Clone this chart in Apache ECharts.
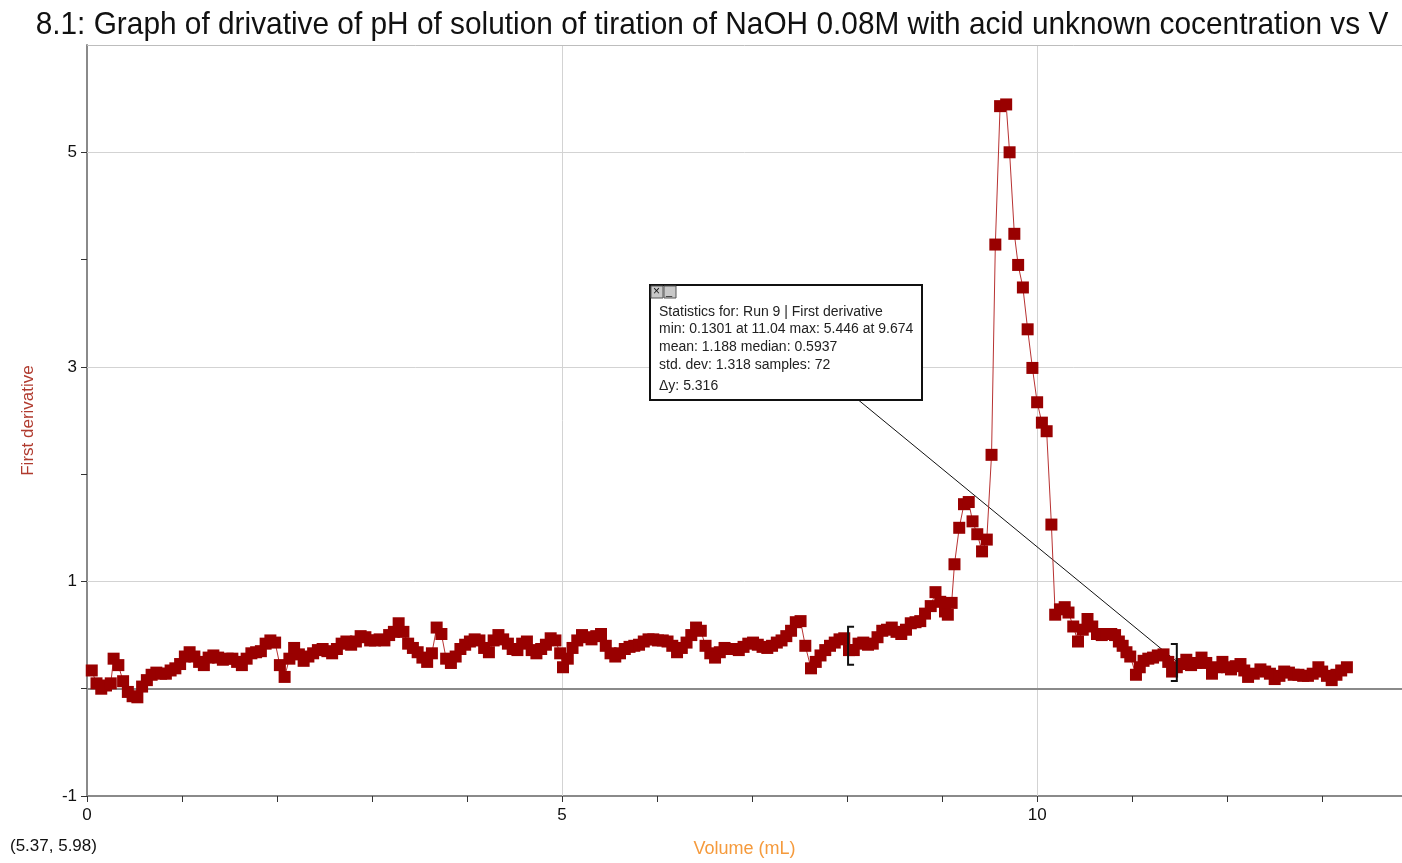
<!DOCTYPE html>
<html>
<head>
<meta charset="utf-8">
<script src="https://cdn.jsdelivr.net/npm/echarts@6/dist/echarts.min.js"></script>
<style>
html,body{margin:0;padding:0;background:#fff;}
#chart{width:1402px;height:863px;}
</style>
</head>
<body>
<div id="chart"></div>
<script>
const titleText = "8.1: Graph of drivative of pH of solution of tiration of NaOH 0.08M with acid unknown cocentration vs V";
const volume = [0.05,0.10,0.15,0.20,0.25,0.28,0.33,0.38,0.43,0.48,0.53,0.58,0.63,0.68,0.73,0.78,0.83,0.88,0.93,0.98,
1.03,1.08,1.13,1.18,1.23,1.28,1.33,1.38,1.43,1.48,1.53,1.58,1.63,1.68,1.73,1.78,1.83,1.88,1.93,1.98,
2.03,2.08,2.13,2.18,2.23,2.28,2.33,2.38,2.43,2.48,2.53,2.58,2.63,2.68,2.73,2.78,2.83,2.88,2.93,2.98,
3.03,3.08,3.13,3.18,3.23,3.28,3.33,3.38,3.43,3.48,3.53,3.58,3.63,3.68,3.73,3.78,3.83,3.88,3.93,3.98,
4.03,4.08,4.13,4.18,4.23,4.28,4.33,4.38,4.43,4.48,4.53,4.58,4.63,4.68,4.73,4.78,4.83,4.88,4.93,4.98,
5.01,5.06,5.11,5.16,5.21,5.26,5.31,5.36,5.41,5.46,5.51,5.56,5.61,5.66,5.71,5.76,5.81,5.86,5.91,5.96,
6.01,6.06,6.11,6.16,6.21,6.26,6.31,6.36,6.41,6.46,6.51,6.56,6.61,6.66,6.71,6.76,6.81,6.86,6.91,6.96,
7.01,7.06,7.11,7.16,7.21,7.26,7.31,7.36,7.41,7.46,7.51,7.56,7.62,7.67,7.72,7.77,7.82,7.87,7.92,7.97,
8.02,8.07,8.12,8.17,8.22,8.27,8.32,8.37,8.42,8.47,8.52,8.57,8.62,8.67,8.72,8.77,8.82,8.88,8.93,8.98,
9.03,9.06,9.10,9.13,9.18,9.23,9.28,9.32,9.37,9.42,9.47,9.52,9.56,9.61,9.674,9.71,9.76,9.80,9.85,9.90,
9.95,10.00,10.05,10.10,10.15,10.19,10.24,10.29,10.33,10.38,10.43,10.48,10.53,10.58,10.63,10.68,10.73,10.78,10.82,10.86,
10.90,10.94,10.98,11.04,11.08,11.12,11.17,11.22,11.27,11.33,11.38,11.42,11.47,11.52,11.57,11.62,11.67,11.73,11.78,11.84,
11.89,11.95,12.00,12.04,12.09,12.14,12.18,12.22,12.28,12.35,12.40,12.45,12.50,12.55,12.60,12.65,12.70,12.75,12.80,12.85,
12.90,12.96,13.00,13.05,13.10,13.15,13.20,13.26];
const derivative = [0.17,0.05,0.00,0.03,0.05,0.28,0.22,0.07,-0.03,-0.07,-0.08,0.02,0.08,0.13,0.15,0.14,0.14,0.17,0.19,0.23,
0.30,0.34,0.30,0.25,0.22,0.29,0.31,0.29,0.27,0.28,0.28,0.25,0.22,0.28,0.33,0.34,0.35,0.42,0.45,0.43,
0.22,0.11,0.28,0.38,0.32,0.26,0.30,0.33,0.36,0.37,0.35,0.33,0.37,0.42,0.44,0.41,0.44,0.49,0.48,0.45,
0.45,0.46,0.45,0.50,0.53,0.61,0.53,0.42,0.38,0.34,0.29,0.25,0.33,0.57,0.51,0.28,0.24,0.30,0.37,0.41,
0.44,0.46,0.45,0.38,0.34,0.45,0.50,0.46,0.42,0.37,0.36,0.42,0.44,0.36,0.33,0.37,0.41,0.47,0.45,0.33,
0.20,0.28,0.38,0.45,0.50,0.48,0.46,0.49,0.51,0.40,0.33,0.30,0.33,0.37,0.39,0.40,0.41,0.44,0.46,0.46,
0.45,0.45,0.44,0.40,0.34,0.38,0.43,0.50,0.57,0.54,0.40,0.33,0.29,0.34,0.38,0.37,0.37,0.36,0.39,0.42,
0.43,0.41,0.39,0.38,0.40,0.43,0.45,0.49,0.54,0.62,0.63,0.40,0.19,0.25,0.31,0.36,0.40,0.43,0.46,0.47,
0.36,0.36,0.42,0.43,0.41,0.42,0.48,0.54,0.55,0.57,0.53,0.51,0.55,0.61,0.62,0.63,0.70,0.77,0.90,0.81,
0.72,0.69,0.80,1.16,1.50,1.72,1.74,1.56,1.44,1.28,1.39,2.18,4.14,5.43,5.446,5.00,4.24,3.95,3.74,3.35,
2.99,2.67,2.48,2.40,1.53,0.69,0.74,0.76,0.71,0.58,0.44,0.55,0.65,0.58,0.51,0.50,0.51,0.51,0.50,0.44,
0.40,0.34,0.30,0.1301,0.20,0.26,0.28,0.29,0.31,0.32,0.25,0.16,0.20,0.23,0.27,0.22,0.24,0.29,0.24,0.14,
0.20,0.25,0.20,0.18,0.21,0.23,0.17,0.11,0.14,0.18,0.16,0.14,0.09,0.12,0.16,0.15,0.13,0.13,0.12,0.12,
0.14,0.20,0.16,0.12,0.08,0.13,0.17,0.20];
const xLabelValues = [0, 5, 10];
const yLabelValues = [-1, 1, 3, 5];
const statsLines = [
  "Statistics for: Run 9 | First derivative",
  "min: 0.1301 at 11.04 max: 5.446 at 9.674",
  "mean: 1.188 median: 0.5937",
  "std. dev: 1.318 samples: 72",
  "\u0394y: 5.316"
];
const cursorText = "(5.37, 5.98)";
const rangeStart = 8.01, rangeEnd = 11.47;

const chart = echarts.init(document.getElementById('chart'), null, {renderer: 'canvas'});
const seriesData = volume.map((v, i) => [v, derivative[i]]);
const gridLineColor = '#d3d3d3';

chart.setOption({
  animation: false,
  backgroundColor: '#ffffff',
  grid: {left: 87, right: 0, top: 45, bottom: 66, containLabel: false},
  xAxis: {
    type: 'value', min: 0, max: 13.84, interval: 1,
    name: 'Volume (mL)', nameLocation: 'middle', nameGap: 44,
    nameTextStyle: {color: '#f59a3c', fontSize: 18, fontFamily: '"Liberation Sans", Arial, sans-serif'},
    axisLine: {show: true, onZero: false, lineStyle: {color: '#8a8a8a', width: 2}},
    axisTick: {show: true, inside: false, length: 6, lineStyle: {color: '#333', width: 1}},
    axisLabel: {
      fontSize: 17, color: '#111', margin: 11, fontFamily: '"Liberation Sans", Arial, sans-serif',
      formatter: v => xLabelValues.indexOf(Math.round(v)) >= 0 && Math.abs(v - Math.round(v)) < 1e-6 ? String(Math.round(v)) : '',
      showMaxLabel: false
    },
    splitLine: {show: false}
  },
  yAxis: {
    type: 'value', min: -1, max: 6, interval: 1,
    name: 'First derivative', nameLocation: 'middle', nameGap: 50,
    nameTextStyle: {color: '#b03a2e', fontSize: 17, fontFamily: '"Liberation Sans", Arial, sans-serif'},
    axisLine: {show: true, onZero: false, lineStyle: {color: '#8a8a8a', width: 2}},
    axisTick: {show: true, inside: false, length: 6, lineStyle: {color: '#333', width: 1}},
    axisLabel: {
      fontSize: 17, color: '#111', margin: 10, fontFamily: '"Liberation Sans", Arial, sans-serif',
      formatter: v => yLabelValues.indexOf(v) >= 0 ? String(v) : '',
      showMaxLabel: false
    },
    splitLine: {show: false}
  },
  series: [{
    type: 'line',
    data: seriesData,
    symbol: 'rect',
    symbolSize: 12,
    itemStyle: {color: '#990000'},
    lineStyle: {color: '#b83232', width: 1},
    z: 5,
    markLine: {
      silent: true,
      symbol: 'none',
      label: {show: false},
      animation: false,
      data: [
        {yAxis: 1, lineStyle: {color: gridLineColor, width: 1, type: 'solid'}},
        {yAxis: 3, lineStyle: {color: gridLineColor, width: 1, type: 'solid'}},
        {yAxis: 5, lineStyle: {color: gridLineColor, width: 1, type: 'solid'}},
        {xAxis: 5, lineStyle: {color: gridLineColor, width: 1, type: 'solid'}},
        {xAxis: 10, lineStyle: {color: gridLineColor, width: 1, type: 'solid'}},
        {yAxis: 0, lineStyle: {color: '#8a8a8a', width: 2, type: 'solid'}},
        {yAxis: 6, lineStyle: {color: '#bdbdbd', width: 1, type: 'solid'}},
        [{coord: [8.12, 2.69], lineStyle: {color: '#111', width: 1, type: 'solid'}}, {coord: [11.46, 0.26]}]
      ]
    }
  }]
});

function px(x, y) { return chart.convertToPixel({gridIndex: 0}, [x, y]); }
const boxTL = px(5.93, 3.765);
const boxBR = px(8.79, 2.69);
const lb = px(rangeStart, 0.40);
const rb = px(rangeEnd, 0.25);
const elements = [];
elements.push({type: 'text', x: 712, y: 25, scaleX: 0.932, scaleY: 1,
  style: {text: titleText, fontSize: 32, fill: '#111', fontFamily: '"Liberation Sans", Arial, sans-serif', textAlign: 'center', textVerticalAlign: 'middle', verticalAlign: 'middle'}, z: 10});
const bx = Math.round(boxTL[0]), by = Math.round(boxTL[1]);
const bw = Math.round(boxBR[0] - boxTL[0]), bh = Math.round(boxBR[1] - boxTL[1]);
elements.push({type: 'rect', shape: {x: bx, y: by, width: bw, height: bh}, style: {fill: '#fff', stroke: '#111', lineWidth: 2}, z: 100});
elements.push({type: 'rect', shape: {x: bx + 1, y: by + 1, width: 12, height: 12}, style: {fill: '#c8c8c8', stroke: '#555', lineWidth: 1}, z: 101});
elements.push({type: 'rect', shape: {x: bx + 14, y: by + 1, width: 12, height: 12}, style: {fill: '#c8c8c8', stroke: '#555', lineWidth: 1}, z: 101});
elements.push({type: 'text', x: bx + 3, y: by + 1, style: {text: '\u00d7', fontSize: 12, fill: '#111', fontFamily: 'Liberation Sans'}, z: 102});
elements.push({type: 'text', x: bx + 16, y: by + 1, style: {text: '_', fontSize: 11, fill: '#111', fontFamily: 'Liberation Sans'}, z: 102});
const lineYs = [27, 44, 62, 80, 101];
statsLines.forEach((t, i) => {
  elements.push({type: 'text', x: bx + 9, y: by + lineYs[i], style: {text: t, fontSize: 14, fill: '#222', fontFamily: '"Liberation Sans", Arial, sans-serif', verticalAlign: 'middle'}, z: 102});
});
// range brackets
elements.push({type: 'polyline', shape: {points: [[lb[0] + 6, lb[1] - 19], [lb[0], lb[1] - 19], [lb[0], lb[1] + 19], [lb[0] + 6, lb[1] + 19]]}, style: {stroke: '#111', lineWidth: 2, fill: null}, z: 50});
elements.push({type: 'polyline', shape: {points: [[rb[0] - 6, rb[1] - 18], [rb[0], rb[1] - 18], [rb[0], rb[1] + 19], [rb[0] - 6, rb[1] + 19]]}, style: {stroke: '#111', lineWidth: 2, fill: null}, z: 50});
elements.push({type: 'text', left: 10, top: 838, style: {text: cursorText, fontSize: 17, fill: '#111', fontFamily: '"Liberation Sans", Arial, sans-serif'}, z: 10});
chart.setOption({graphic: {elements: elements}});
</script>
</body>
</html>
